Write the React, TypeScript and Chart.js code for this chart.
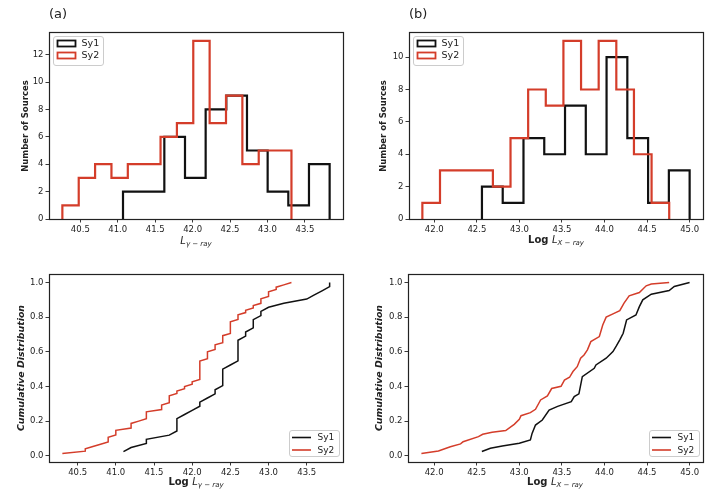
import React, { useEffect, useRef } from "react";
import { Chart, registerables } from "chart.js";
Chart.register(...registerables);

const RED = "#d43d2a";
const BLACK = "#111111";
const TXT = "#222222";
const FONT = "'DejaVu Sans', Verdana, sans-serif";

// ---------- (a) gamma-ray luminosity histograms ----------
const gammaSy1Counts = [2, 2, 6, 3, 8, 9, 5, 2, 1, 4];
const gammaSy1Range = [41.07, 43.83];
const gammaSy2Counts = [1, 3, 4, 3, 4, 4, 6, 7, 13, 7, 9, 4, 5, 5];
const gammaSy2Range = [40.26, 43.32];

// ---------- (b) X-ray luminosity histograms ----------
const xraySy1Counts = [2, 1, 5, 4, 7, 4, 10, 5, 1, 3];
const xraySy1Range = [42.56, 45.0];
const xraySy2Counts = [1, 3, 3, 3, 2, 5, 8, 7, 11, 8, 11, 8, 4, 1];
const xraySy2Range = [41.86, 44.76];

// ---------- (c) gamma-ray cumulative distribution (sorted luminosities) ----------
const gammaCdfSy1 = [
  41.1, 41.2, 41.4, 41.4, 41.7, 41.8, 41.8, 41.8, 41.8, 41.9, 42.0, 42.1, 42.1,
  42.2, 42.3, 42.3, 42.4, 42.4, 42.4, 42.4, 42.4, 42.5, 42.6, 42.6, 42.6, 42.6,
  42.6, 42.6, 42.7, 42.7, 42.8, 42.8, 42.8, 42.9, 42.9, 43.0, 43.2, 43.5, 43.6,
  43.7, 43.8, 43.8,
];
const gammaCdfSy2 = [
  40.3, 40.6, 40.6, 40.7, 40.8, 40.9, 40.9, 40.9, 41.0, 41.0, 41.0, 41.2, 41.2,
  41.2, 41.3, 41.4, 41.4, 41.4, 41.4, 41.6, 41.6, 41.6, 41.7, 41.7, 41.7, 41.7,
  41.8, 41.8, 41.9, 41.9, 42.0, 42.0, 42.1, 42.1, 42.1, 42.1, 42.1, 42.1, 42.1,
  42.1, 42.1, 42.2, 42.2, 42.2, 42.2, 42.3, 42.3, 42.3, 42.4, 42.4, 42.4, 42.4,
  42.5, 42.5, 42.5, 42.5, 42.5, 42.5, 42.6, 42.6, 42.6, 42.7, 42.7, 42.8, 42.8,
  42.9, 42.9, 42.9, 43.0, 43.0, 43.0, 43.1, 43.1, 43.2, 43.3,
];

// ---------- (d) X-ray cumulative distribution (traced curve) ----------
const xrayCdfSy1X = [
  42.56, 42.66, 42.8, 43.0, 43.13, 43.15, 43.19, 43.27, 43.35, 43.45, 43.61,
  43.645, 43.7, 43.74, 43.88, 43.9, 44.02, 44.1, 44.14, 44.18, 44.22, 44.26,
  44.37, 44.41, 44.45, 44.55, 44.76, 44.82, 45.0,
];
const xrayCdfSy1Y = [
  0.024, 0.043, 0.056, 0.072, 0.091, 0.129, 0.177, 0.206, 0.264, 0.285, 0.312,
  0.341, 0.357, 0.457, 0.505, 0.524, 0.563, 0.601, 0.634, 0.669, 0.707, 0.784,
  0.813, 0.861, 0.9, 0.933, 0.954, 0.977, 1.0,
];
const xrayCdfSy2X = [
  41.85, 42.05, 42.19, 42.31, 42.34, 42.52, 42.57, 42.68, 42.84, 42.94, 43.0,
  43.02, 43.13, 43.19, 43.25, 43.33, 43.38, 43.49, 43.53, 43.59, 43.63, 43.68,
  43.72, 43.76, 43.8, 43.84, 43.94, 43.98, 44.02, 44.1, 44.18, 44.23, 44.29,
  44.41, 44.49, 44.55, 44.76,
];
const xrayCdfSy2Y = [
  0.013, 0.027, 0.052, 0.068, 0.081, 0.11, 0.124, 0.135, 0.145, 0.181, 0.21,
  0.231, 0.249, 0.268, 0.322, 0.345, 0.388, 0.401, 0.437, 0.453, 0.486, 0.514,
  0.563, 0.582, 0.611, 0.659, 0.688, 0.755, 0.8, 0.819, 0.838, 0.881, 0.923,
  0.942, 0.981, 0.991, 1.0,
];

// ---------- tick labels ----------
const gammaTicks = [40.5, 41.0, 41.5, 42.0, 42.5, 43.0, 43.5];
const xrayTicks = [42.0, 42.5, 43.0, 43.5, 44.0, 44.5, 45.0];
const histTicksA = [0, 2, 4, 6, 8, 10, 12];
const histTicksB = [0, 2, 4, 6, 8, 10];
const cdfTicks = [0.0, 0.2, 0.4, 0.6, 0.8, 1.0];
const seriesNames = ["Sy1", "Sy2"];

// ---------- helpers ----------
type Pt = { x: number; y: number };

function histOutline(counts: number[], range: number[]): Pt[] {
  const n = counts.length;
  const w = (range[1] - range[0]) / n;
  const pts: Pt[] = [{ x: range[0], y: 0 }];
  counts.forEach((c, i) => {
    pts.push({ x: range[0] + i * w, y: c });
    pts.push({ x: range[0] + (i + 1) * w, y: c });
  });
  pts.push({ x: range[1], y: 0 });
  return pts;
}

function cdfFromSamples(samples: number[]): Pt[] {
  const n = samples.length;
  return samples.map((v, i) => ({ x: v, y: (i + 1) / n }));
}

function zipPts(xs: number[], ys: number[]): Pt[] {
  return xs.map((x, i) => ({ x, y: ys[i] }));
}

function padLimits(lo: number, hi: number): [number, number] {
  const m = (hi - lo) * 0.05;
  return [lo - m, hi + m];
}

function roundRectPath(ctx: CanvasRenderingContext2D, x: number, y: number, w: number, h: number, r: number) {
  ctx.beginPath();
  ctx.moveTo(x + r, y);
  ctx.lineTo(x + w - r, y);
  ctx.arcTo(x + w, y, x + w, y + r, r);
  ctx.lineTo(x + w, y + h - r);
  ctx.arcTo(x + w, y + h, x + w - r, y + h, r);
  ctx.lineTo(x + r, y + h);
  ctx.arcTo(x, y + h, x, y + h - r, r);
  ctx.lineTo(x, y + r);
  ctx.arcTo(x, y, x + r, y, r);
  ctx.closePath();
}

const framePlugin = {
  id: "mplFrame",
  afterDatasetsDraw(chart: any) {
    const { ctx, chartArea: a } = chart;
    ctx.save();
    ctx.strokeStyle = TXT;
    ctx.lineWidth = 1.2;
    ctx.strokeRect(Math.round(a.left) + 0.5, Math.round(a.top) + 0.5, Math.round(a.right - a.left), Math.round(a.bottom - a.top));
    ctx.restore();
  },
};

function legendPlugin(kind: "patch" | "line", corner: "tl" | "br", colors: string[]) {
  return {
    id: "mplLegend",
    afterDraw(chart: any) {
      const { ctx, chartArea: a } = chart;
      const w = 50;
      const h = kind === "patch" ? 29 : 26;
      const x0 = corner === "tl" ? a.left + 4 : a.right - 4 - w;
      const y0 = corner === "tl" ? a.top + 4 : a.bottom - 6 - h;
      ctx.save();
      roundRectPath(ctx, x0 + 0.5, y0 + 0.5, w, h, 2.5);
      ctx.fillStyle = "rgba(255,255,255,0.85)";
      ctx.fill();
      ctx.strokeStyle = "#cccccc";
      ctx.lineWidth = 1;
      ctx.stroke();
      seriesNames.forEach((name, i) => {
        const cy = y0 + 7.5 + i * (kind === "patch" ? 12 : 12.5);
        ctx.strokeStyle = colors[i];
        if (kind === "patch") {
          ctx.lineWidth = 1.8;
          ctx.strokeRect(x0 + 4.5, cy - 3, 18, 6);
        } else {
          ctx.lineWidth = 1.6;
          ctx.beginPath();
          ctx.moveTo(x0 + 3, cy);
          ctx.lineTo(x0 + 22, cy);
          ctx.stroke();
        }
        ctx.fillStyle = TXT;
        ctx.font = `${kind === "patch" ? 9.5 : 9}px ${FONT}`;
        ctx.textBaseline = "middle";
        ctx.textAlign = "left";
        ctx.fillText(name, x0 + 28.5, cy + 0.5);
      });
      ctx.restore();
    },
  };
}

type Area = { left: number; top: number; right: number; bottom: number };

function buildConfig(p: {
  datasets: any[];
  xLim: [number, number];
  yLim: [number, number];
  xTicks: number[];
  yTicks: number[];
  yDigits: number;
  area: Area;
  w: number;
  h: number;
  legend: any;
}): any {
  const tickFont = { family: FONT, size: 8.5 };
  return {
    type: "line",
    data: { datasets: p.datasets },
    options: {
      animation: false,
      responsive: false,
      devicePixelRatio: 1,
      layout: { padding: { left: 0, top: p.area.top, right: p.w - p.area.right, bottom: 0 } },
      plugins: { legend: { display: false }, tooltip: { enabled: false } },
      elements: { point: { radius: 0 } },
      scales: {
        x: {
          type: "linear",
          min: p.xLim[0],
          max: p.xLim[1],
          afterBuildTicks: (s: any) => {
            s.ticks = p.xTicks.map((v) => ({ value: v }));
          },
          afterFit: (s: any) => {
            s.height = p.h - p.area.bottom;
          },
          ticks: {
            autoSkip: false,
            maxRotation: 0,
            padding: 2,
            color: TXT,
            font: tickFont,
            callback: (v: number) => Number(v).toFixed(1),
          },
          grid: { drawOnChartArea: false, drawTicks: true, tickLength: 3.5, tickColor: TXT, tickWidth: 0.9 },
          border: { display: false },
        },
        y: {
          type: "linear",
          min: p.yLim[0],
          max: p.yLim[1],
          afterBuildTicks: (s: any) => {
            s.ticks = p.yTicks.map((v) => ({ value: v }));
          },
          afterFit: (s: any) => {
            s.width = p.area.left;
          },
          ticks: {
            autoSkip: false,
            padding: 2,
            color: TXT,
            font: tickFont,
            callback: (v: number) => Number(v).toFixed(p.yDigits),
          },
          grid: { drawOnChartArea: false, drawTicks: true, tickLength: 3.5, tickColor: TXT, tickWidth: 0.9 },
          border: { display: false },
        },
      },
    },
    plugins: [framePlugin, p.legend],
  };
}

function histDatasets(s1: Pt[], s2: Pt[]) {
  return [
    { label: "Sy1", data: s1, borderColor: BLACK, borderWidth: 2.2, fill: false, tension: 0, order: 1, pointRadius: 0 },
    { label: "Sy2", data: s2, borderColor: RED, borderWidth: 2.2, fill: false, tension: 0, order: 0, pointRadius: 0 },
  ];
}
function cdfDatasets(s1: Pt[], s2: Pt[]) {
  return [
    { label: "Sy1", data: s1, borderColor: BLACK, borderWidth: 1.5, fill: false, tension: 0, order: 1, pointRadius: 0 },
    { label: "Sy2", data: s2, borderColor: RED, borderWidth: 1.5, fill: false, tension: 0, order: 0, pointRadius: 0 },
  ];
}

function Panel(props: { left: number; top: number; w: number; h: number; make: () => any }) {
  const ref = useRef<HTMLCanvasElement>(null);
  useEffect(() => {
    const chart = new Chart(ref.current as HTMLCanvasElement, props.make());
    return () => chart.destroy();
  }, []);
  return (
    <canvas
      ref={ref}
      width={props.w}
      height={props.h}
      style={{ position: "absolute", left: props.left, top: props.top, width: props.w, height: props.h }}
    />
  );
}

const abs = (extra: React.CSSProperties): React.CSSProperties => ({
  position: "absolute",
  whiteSpace: "nowrap",
  color: TXT,
  fontFamily: FONT,
  lineHeight: 1,
  ...extra,
});

const subStyle: React.CSSProperties = { fontSize: "70%", fontStyle: "italic", verticalAlign: "-0.35em", lineHeight: 0 };

function XTitle(props: { cx: number; top: number; log: boolean; sub: string }) {
  return (
    <div style={abs({ left: props.cx, top: props.top, transform: "translateX(-50%)", fontSize: 10 })}>
      {props.log ? <span style={{ fontWeight: "bold" }}>Log </span> : null}
      <span style={{ fontStyle: "italic" }}>L</span>
      <span style={subStyle}>{props.sub}</span>
    </div>
  );
}

function YTitle(props: { cx: number; cy: number; text: string; italic: boolean; size: number }) {
  return (
    <div
      style={abs({
        left: props.cx,
        top: props.cy,
        transform: "translate(-50%, -50%) rotate(-90deg)",
        fontSize: props.size,
        fontWeight: "bold",
        fontStyle: props.italic ? "italic" : "normal",
      })}
    >
      {props.text}
    </div>
  );
}

export default function App() {
  const areaTop: Area = { left: 49, top: 32, right: 343, bottom: 219 };
  const areaC: Area = { left: 49, top: 24, right: 343, bottom: 212 };
  const areaD: Area = { left: 48, top: 24, right: 343, bottom: 212 };

  const makeA = () =>
    buildConfig({
      datasets: histDatasets(histOutline(gammaSy1Counts, gammaSy1Range), histOutline(gammaSy2Counts, gammaSy2Range)),
      xLim: padLimits(Math.min(gammaSy1Range[0], gammaSy2Range[0]), Math.max(gammaSy1Range[1], gammaSy2Range[1])),
      yLim: [0, Math.max(...gammaSy1Counts, ...gammaSy2Counts) * 1.05],
      xTicks: gammaTicks,
      yTicks: histTicksA,
      yDigits: 0,
      area: areaTop,
      w: 360,
      h: 250,
      legend: legendPlugin("patch", "tl", [BLACK, RED]),
    });
  const makeB = () =>
    buildConfig({
      datasets: histDatasets(histOutline(xraySy1Counts, xraySy1Range), histOutline(xraySy2Counts, xraySy2Range)),
      xLim: padLimits(Math.min(xraySy1Range[0], xraySy2Range[0]), Math.max(xraySy1Range[1], xraySy2Range[1])),
      yLim: [0, Math.max(...xraySy1Counts, ...xraySy2Counts) * 1.05],
      xTicks: xrayTicks,
      yTicks: histTicksB,
      yDigits: 0,
      area: areaTop,
      w: 359,
      h: 250,
      legend: legendPlugin("patch", "tl", [BLACK, RED]),
    });
  const makeC = () => {
    const s1 = cdfFromSamples(gammaCdfSy1);
    const s2 = cdfFromSamples(gammaCdfSy2);
    const ys = [...s1, ...s2].map((p) => p.y);
    return buildConfig({
      datasets: cdfDatasets(s1, s2),
      xLim: padLimits(Math.min(...gammaCdfSy1, ...gammaCdfSy2), Math.max(...gammaCdfSy1, ...gammaCdfSy2)),
      yLim: padLimits(Math.min(...ys), Math.max(...ys)),
      xTicks: gammaTicks,
      yTicks: cdfTicks,
      yDigits: 1,
      area: areaC,
      w: 360,
      h: 254,
      legend: legendPlugin("line", "br", [BLACK, RED]),
    });
  };
  const makeD = () => {
    const s1 = zipPts(xrayCdfSy1X, xrayCdfSy1Y);
    const s2 = zipPts(xrayCdfSy2X, xrayCdfSy2Y);
    return buildConfig({
      datasets: cdfDatasets(s1, s2),
      xLim: padLimits(Math.min(...xrayCdfSy1X, ...xrayCdfSy2X), Math.max(...xrayCdfSy1X, ...xrayCdfSy2X)),
      yLim: padLimits(Math.min(...xrayCdfSy1Y, ...xrayCdfSy2Y), Math.max(...xrayCdfSy1Y, ...xrayCdfSy2Y)),
      xTicks: xrayTicks,
      yTicks: cdfTicks,
      yDigits: 1,
      area: areaD,
      w: 359,
      h: 254,
      legend: legendPlugin("line", "br", [BLACK, RED]),
    });
  };

  return (
    <div style={{ position: "absolute", left: 0, top: 0, width: 719, height: 504, background: "#ffffff", overflow: "hidden" }}>
      <Panel left={0} top={0} w={360} h={250} make={makeA} />
      <Panel left={360} top={0} w={359} h={250} make={makeB} />
      <Panel left={0} top={250} w={360} h={254} make={makeC} />
      <Panel left={360} top={250} w={359} h={254} make={makeD} />

      <div style={abs({ left: 49, top: 7, fontSize: 13 })}>(a)</div>
      <div style={abs({ left: 409, top: 7, fontSize: 13 })}>(b)</div>

      <XTitle cx={196} top={236} log={false} sub="γ − ray" />
      <XTitle cx={556} top={235} log={true} sub="X − ray" />
      <XTitle cx={196} top={477} log={true} sub="γ − ray" />
      <XTitle cx={555} top={477} log={true} sub="X − ray" />

      <YTitle cx={25} cy={125.5} text="Number of Sources" italic={false} size={8.5} />
      <YTitle cx={382.5} cy={125.5} text="Number of Sources" italic={false} size={8.5} />
      <YTitle cx={21} cy={368} text="Cumulative Distribution" italic={true} size={9.4} />
      <YTitle cx={379} cy={368} text="Cumulative Distribution" italic={true} size={9.4} />
    </div>
  );
}
